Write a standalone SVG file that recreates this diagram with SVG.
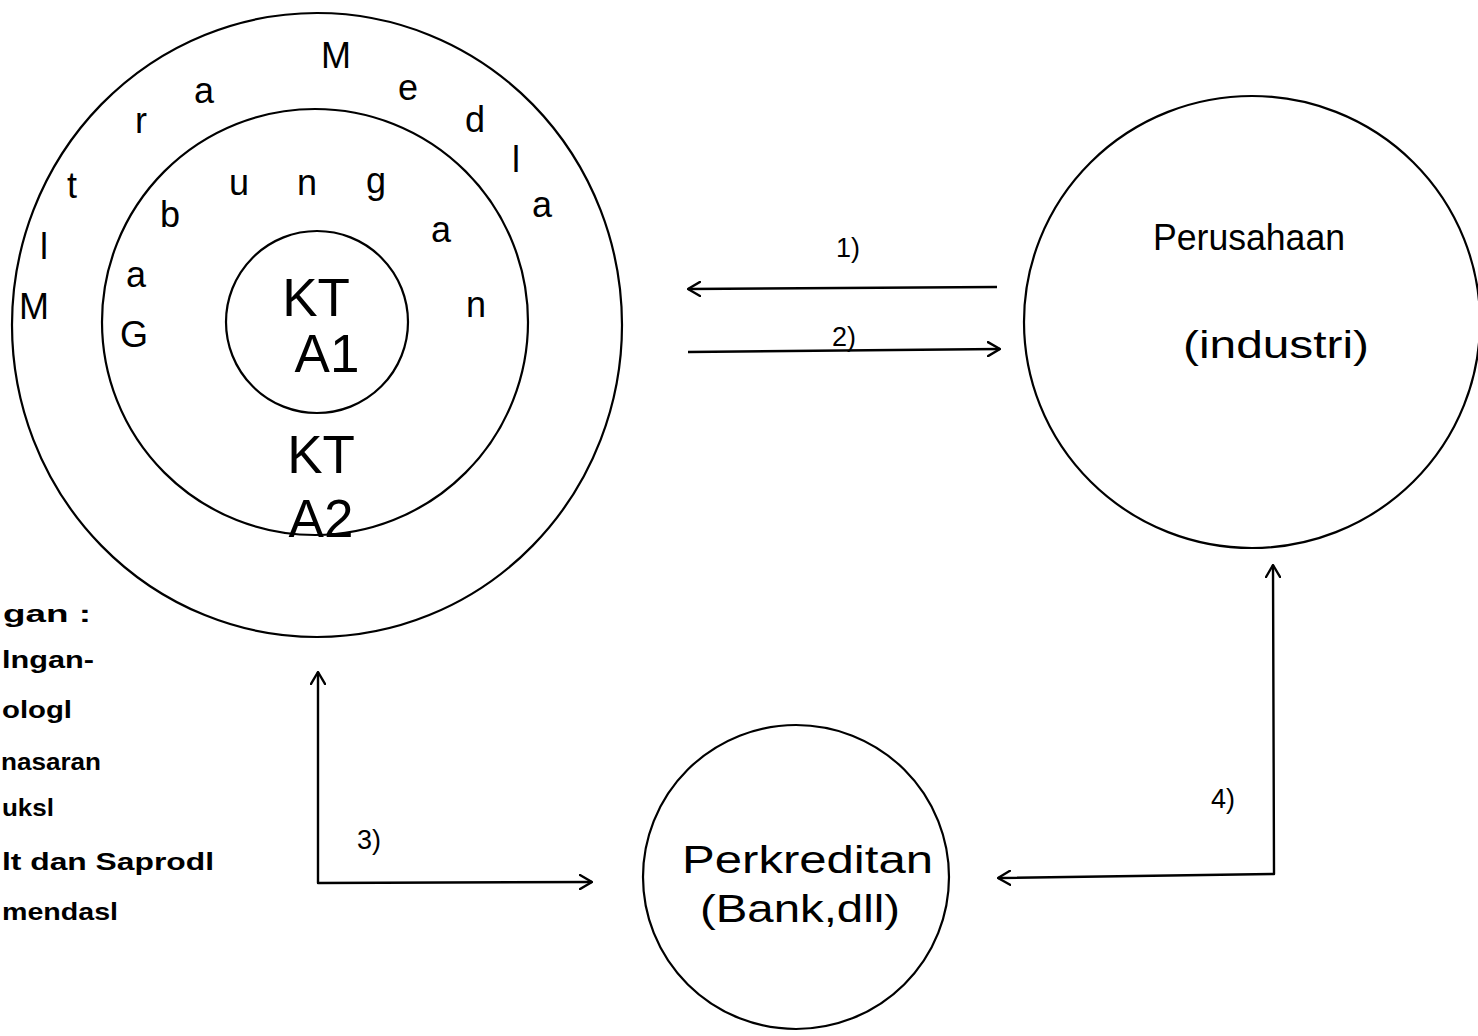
<svg xmlns="http://www.w3.org/2000/svg" width="1478" height="1036" viewBox="0 0 1478 1036">
  <defs>
    <style>
      .ring { fill: none; stroke: #000; stroke-width: 2.2; }
      .wire { fill: none; stroke: #000; stroke-width: 2.4; stroke-linejoin: round; }
      .txt { font-family: "Liberation Sans", Arial, sans-serif; fill: #000; }
      .ch { font-size: 36px; text-anchor: middle; }
      .big { font-size: 53px; text-anchor: middle; }
      .lbl { font-size: 38px; }
      .num { font-size: 27px; }
      .leg { font-family: "Liberation Sans", Arial, sans-serif; font-weight: bold; font-size: 23px; fill: #000; }
    </style>
    <marker id="head" viewBox="0 0 14 16" refX="13" refY="8" markerWidth="14" markerHeight="16" markerUnits="userSpaceOnUse" orient="auto-start-reverse">
      <path d="M1,1 L13,8 L1,15" fill="none" stroke="#000" stroke-width="2.4" stroke-linecap="round" stroke-linejoin="round"/>
    </marker>
  </defs>

  <rect width="1478" height="1036" fill="#fff"/>

  <!-- Nested circles: Mitra Media / Gabungan / KTA -->
  <g id="mitra-media">
    <ellipse class="ring" cx="317" cy="325" rx="305" ry="312"/>
    <g class="txt ch">
      <text x="34" y="319">M</text>
      <text x="44" y="259">l</text>
      <text x="72" y="198">t</text>
      <text x="141" y="133">r</text>
      <text x="204" y="103">a</text>
      <text x="336" y="68">M</text>
      <text x="408" y="100">e</text>
      <text x="475" y="132">d</text>
      <text x="516" y="172">l</text>
      <text x="542" y="217">a</text>
    </g>
  </g>

  <g id="gabungan">
    <ellipse class="ring" cx="315" cy="322" rx="213" ry="213"/>
    <g class="txt ch">
      <text x="134" y="347">G</text>
      <text x="136" y="287">a</text>
      <text x="170" y="227">b</text>
      <text x="239" y="195">u</text>
      <text x="307" y="195">n</text>
      <text x="376" y="193">g</text>
      <text x="441" y="242">a</text>
      <text x="476" y="317">n</text>
    </g>
    <g class="txt big">
      <text x="321" y="473">KT</text>
      <text x="321" y="537">A2</text>
    </g>
  </g>

  <g id="kta1">
    <ellipse class="ring" cx="317" cy="322" rx="91" ry="91"/>
    <g class="txt big">
      <text x="316" y="316">KT</text>
      <text x="327" y="372">A1</text>
    </g>
  </g>

  <!-- Company -->
  <g id="perusahaan">
    <ellipse class="ring" cx="1252" cy="322" rx="228" ry="226"/>
    <text class="txt" x="1153" y="250" font-size="36" textLength="192" lengthAdjust="spacingAndGlyphs">Perusahaan</text>
    <text class="txt lbl" x="1183" y="358" textLength="186" lengthAdjust="spacingAndGlyphs">(industri)</text>
  </g>

  <!-- Credit -->
  <g id="perkreditan">
    <ellipse class="ring" cx="796" cy="877" rx="153" ry="152"/>
    <text class="txt lbl" x="682" y="873" textLength="251" lengthAdjust="spacingAndGlyphs">Perkreditan</text>
    <text class="txt lbl" x="700" y="922" textLength="200" lengthAdjust="spacingAndGlyphs">(Bank,dll)</text>
  </g>

  <!-- Flows between the parties -->
  <g id="connectors">
    <path class="wire" d="M997,287 L688,289" marker-end="url(#head)"/>
    <path class="wire" d="M688,352 L1000,349" marker-end="url(#head)"/>
    <path class="wire" d="M318,672 L318,883 L592,882" marker-start="url(#head)" marker-end="url(#head)"/>
    <path class="wire" d="M1273,565 L1274,874 L998,878" marker-start="url(#head)" marker-end="url(#head)"/>
    <g class="txt num">
      <text x="836" y="257">1)</text>
      <text x="832" y="346">2)</text>
      <text x="357" y="849">3)</text>
      <text x="1211" y="808">4)</text>
    </g>
  </g>

  <!-- Legend (partly outside the left edge) -->
  <g id="legend">
    <text class="leg" x="3" y="622" textLength="88" lengthAdjust="spacingAndGlyphs">gan :</text>
    <text class="leg" x="2" y="668" textLength="92" lengthAdjust="spacingAndGlyphs">lngan-</text>
    <text class="leg" x="2" y="718" textLength="70" lengthAdjust="spacingAndGlyphs">ologl</text>
    <text class="leg" x="1" y="770" textLength="100" lengthAdjust="spacingAndGlyphs">nasaran</text>
    <text class="leg" x="2" y="816" textLength="52" lengthAdjust="spacingAndGlyphs">uksl</text>
    <text class="leg" x="2" y="870" textLength="212" lengthAdjust="spacingAndGlyphs">lt dan Saprodl</text>
    <text class="leg" x="2" y="920" textLength="116" lengthAdjust="spacingAndGlyphs">mendasl</text>
  </g>
</svg>
